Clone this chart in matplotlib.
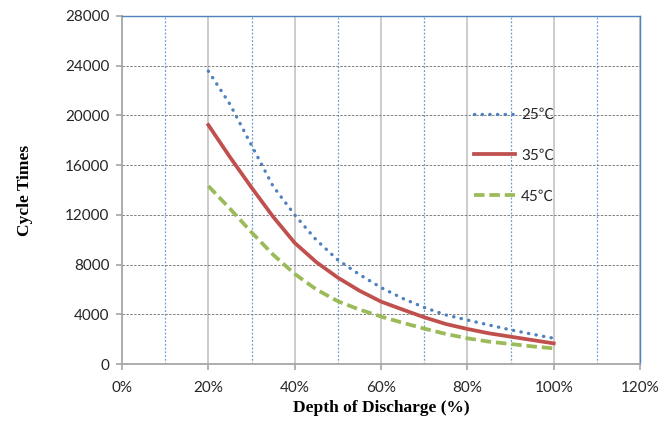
import numpy as np
import matplotlib.pyplot as plt
from matplotlib.ticker import MultipleLocator, PercentFormatter

# depth of discharge (fraction) and cycle times
dod = [0.20, 0.25, 0.30, 0.35, 0.40, 0.45, 0.50, 0.55, 0.60,
       0.65, 0.70, 0.75, 0.80, 0.85, 0.90, 0.95, 1.00]
cycles_25 = [23570, 20900, 17600, 14300, 12000, 9980, 8370, 7200, 6150,
             5280, 4550, 3950, 3540, 3140, 2750, 2400, 2070]
cycles_35 = [19230, 16650, 14200, 11850, 9750, 8200, 6950, 5900, 5020,
             4380, 3760, 3220, 2820, 2470, 2200, 1930, 1660]
cycles_45 = [14320, 12500, 10600, 8800, 7250, 6000, 5050, 4380, 3820,
             3320, 2850, 2420, 2070, 1800, 1610, 1420, 1260]
labels = ["25℃", "35℃", "45℃"]

tick_font = ["Lato", "Noto Sans CJK SC", "DejaVu Sans"]

fig = plt.figure(figsize=(6.62, 4.25), dpi=100)
ax = fig.add_axes([0.1843, 0.1435, 0.7825, 0.8189])

ax.plot(dod, cycles_25, color="#4F81BD", linestyle=(0, (0.1, 2.2)), lw=2.4,
        dash_capstyle="round", label=labels[0])
ax.plot(dod, cycles_35, color="#C0504D", linestyle="-", lw=2.7, label=labels[1])
ax.plot(dod, cycles_45, color="#9BBB59", linestyle=(0, (2.8, 1.3)), lw=2.7, label=labels[2])

ax.set_xlim(0, 1.2)
ax.set_ylim(0, 28000)
ax.xaxis.set_major_locator(MultipleLocator(0.2))
ax.xaxis.set_major_formatter(PercentFormatter(1.0, decimals=0))
ax.yaxis.set_major_locator(MultipleLocator(4000))

# grid: light gray major verticals, blue dotted odd verticals, dashed horizontals
for x in np.arange(0.2, 1.21, 0.2):
    ax.axvline(x, color="#c8c8c8", lw=1.3, zorder=0)
for x in np.arange(0.1, 1.15, 0.2):
    ax.axvline(x, color="#6a9fd0", lw=0.9, linestyle=(0, (1.5, 1.5)), zorder=0)
for y in np.arange(4000, 28001, 4000):
    ax.axhline(y, color="#7f7f7f", lw=0.7, linestyle=(0, (2.5, 1.5)), zorder=0)

for side in ["top", "right"]:
    ax.spines[side].set_color("#4F81BD")
    ax.spines[side].set_linewidth(1.0)
for side in ["left", "bottom"]:
    ax.spines[side].set_color("#a6a6a6")
    ax.spines[side].set_linewidth(1.3)

ax.tick_params(axis="both", direction="out", length=4, color="#a6a6a6", width=1.2,
               labelsize=11, labelcolor="#262626")
for lab in ax.get_xticklabels() + ax.get_yticklabels():
    lab.set_family(tick_font)
ax.tick_params(axis="x", pad=8)
ax.tick_params(axis="y", pad=5)

ax.set_xlabel("Depth of Discharge (%)", family="Liberation Serif", fontweight="bold",
              fontsize=12.5, labelpad=4)
ax.set_ylabel("Cycle Times", family="Liberation Serif", fontweight="bold",
              fontsize=12.5, labelpad=23)

leg = ax.legend(loc="upper left", bbox_to_anchor=(0.652, 0.775), frameon=False,
                handlelength=2.7, handletextpad=0.4, labelspacing=1.75,
                prop={"family": tick_font, "size": 11})
for t in leg.get_texts():
    t.set_color("#262626")

fig.savefig("out.png", dpi=100)
